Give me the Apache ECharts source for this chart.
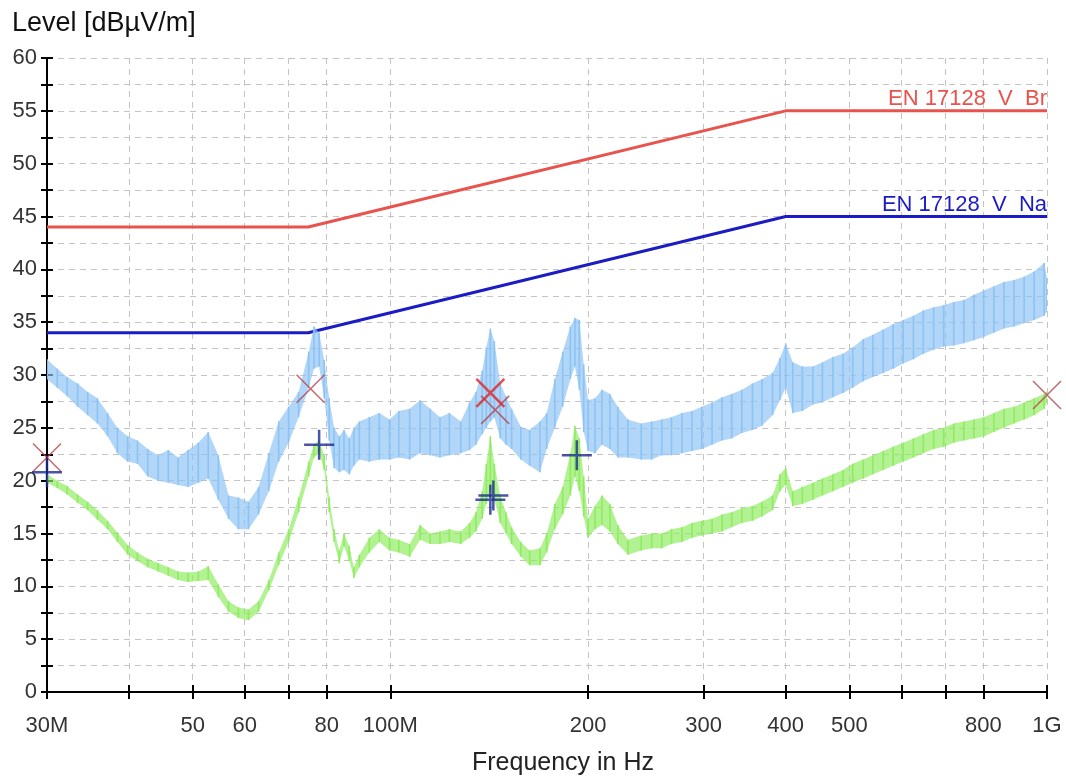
<!DOCTYPE html>
<html>
<head>
<meta charset="utf-8">
<title>EN 17128 scan</title>
<script src="https://cdn.jsdelivr.net/npm/echarts@6/dist/echarts.min.js"></script>
<style>
  html, body { margin: 0; padding: 0; background: #fff; }
  #main { width: 1066px; height: 776px; }
</style>
</head>
<body>
<div id="main"></div>
<script>
// sweep points, MHz
var freqMHz = [
  30, 31.1, 32.2, 33.4, 34.6, 35.8, 37.1, 38.4, 39.8, 41.2,
  42.7, 44.3, 45.9, 47.5, 49.2, 51.0, 52.8, 54.7, 56.7, 58.7,
  60.8, 63.0, 65.3, 67.6, 70.0, 72.5, 75.1, 76.5, 77.9, 79.3,
  80.7, 82.1, 83.6, 85.0, 86.6, 88.0, 89.7, 92.9, 96.2, 99.7,
  103, 107, 111, 115, 119, 123, 128, 132, 135, 138,
  140, 142, 144, 147, 150, 153, 158, 163, 169, 173,
  178, 183, 188, 191, 194, 197, 200, 205, 210, 216,
  222, 230, 241, 250, 259, 268, 278, 288, 298, 309,
  320, 331, 343, 356, 368, 382, 392, 400, 410, 424,
  440, 455, 472, 489, 506, 525, 543, 563, 583, 604,
  626, 648, 672, 696, 721, 747, 774, 801, 830, 860,
  891, 923, 956, 990, 1000
];
// peak detector trace (light blue), top and bottom of the scatter
var peakHi = [
  31.5, 30.6, 29.8, 29.2, 28.4, 27.8, 26.4, 25.0, 24.2, 23.8,
  23.0, 22.4, 22.9, 22.2, 22.9, 23.6, 24.6, 22.4, 18.6, 18.4,
  18.0, 19.4, 22.6, 25.6, 27.0, 28.4, 32.2, 34.6, 34.0, 31.4,
  27.8, 25.0, 24.2, 24.8, 24.0, 25.0, 25.6, 26.0, 26.4, 25.8,
  26.6, 26.8, 27.6, 26.8, 26.0, 26.4, 25.6, 27.4, 28.4, 30.4,
  32.6, 34.4, 33.2, 29.2, 28.0, 26.8, 25.1, 24.8, 25.6, 26.4,
  29.6, 32.2, 34.6, 35.4, 35.2, 31.0, 27.6, 27.8, 28.6, 28.2,
  27.0, 25.8, 25.4, 25.6, 25.8, 26.0, 26.4, 26.6, 27.0, 27.4,
  27.9, 28.2, 28.6, 29.2, 29.6, 30.2, 31.6, 33.0, 31.2, 30.8,
  30.8, 31.2, 31.7, 32.0, 32.6, 33.4, 33.8, 34.3, 34.8, 35.2,
  35.6, 36.1, 36.4, 36.6, 36.9, 37.1, 37.6, 38.0, 38.4, 38.8,
  39.0, 39.3, 39.8, 40.6, 39.2
];
var peakLo = [
  29.6, 28.8, 28.0, 27.0, 26.2, 25.4, 24.2, 22.6, 21.8, 21.6,
  20.4, 20.0, 19.8, 19.6, 19.4, 19.8, 20.2, 18.2, 16.4, 15.4,
  15.4, 16.8, 19.0, 21.8, 23.6, 26.0, 28.8, 30.6, 30.8, 27.8,
  23.8, 21.2, 20.8, 21.0, 20.6, 21.4, 22.0, 21.8, 22.0, 22.0,
  22.2, 22.0, 22.6, 22.4, 22.2, 22.4, 22.6, 22.9, 23.4, 24.4,
  25.0, 25.6, 26.0, 24.0, 23.4, 23.0, 22.0, 21.4, 20.8, 23.0,
  25.0, 27.0, 29.6, 30.8, 28.6, 24.6, 22.8, 22.6, 23.4, 23.0,
  22.2, 22.2, 22.0, 22.0, 22.4, 22.4, 22.6, 22.8, 23.0, 23.4,
  23.8, 24.0, 24.5, 24.8, 25.2, 26.2, 27.6, 28.8, 26.4, 26.6,
  27.2, 27.4, 27.9, 28.3, 28.8, 29.4, 29.8, 30.2, 30.6, 31.1,
  31.5, 32.0, 32.4, 32.7, 32.8, 33.0, 33.3, 33.6, 34.0, 34.4,
  34.6, 34.9, 35.2, 35.6, 36.0
];
// average detector trace (green)
var avgHi = [
  20.6, 20.0, 19.5, 18.7, 18.0, 17.2, 16.2, 15.1, 13.9, 13.2,
  12.6, 12.2, 11.8, 11.4, 11.3, 11.4, 11.9, 10.2, 8.6, 8.0,
  7.8, 8.6, 10.6, 13.2, 15.4, 18.4, 21.8, 23.4, 23.8, 22.4,
  18.4, 15.4, 13.4, 15.0, 13.8, 11.8, 13.0, 14.6, 15.4, 14.6,
  14.4, 14.0, 15.8, 15.0, 15.2, 15.4, 15.2, 16.0, 17.0, 19.0,
  21.6, 24.2, 21.6, 18.6, 17.0, 15.6, 14.2, 13.4, 13.6, 15.0,
  17.8, 19.4, 22.6, 25.2, 24.0, 20.4, 16.4, 17.6, 18.6, 17.8,
  15.8, 14.4, 14.8, 15.0, 15.0, 15.4, 15.6, 16.0, 16.2, 16.4,
  16.8, 17.0, 17.4, 17.6, 18.0, 18.6, 20.6, 21.2, 19.0, 19.4,
  19.8, 20.2, 20.6, 21.0, 21.6, 22.0, 22.4, 22.8, 23.2, 23.6,
  24.0, 24.4, 24.8, 25.0, 25.4, 25.6, 25.8, 26.0, 26.4, 26.8,
  27.0, 27.4, 27.8, 28.2, 28.4
];
var avgLo = [
  19.8, 19.3, 18.7, 17.9, 17.2, 16.3, 15.4, 14.2, 13.0, 12.4,
  11.8, 11.4, 11.0, 10.6, 10.4, 10.5, 10.6, 9.0, 7.6, 7.0,
  6.8, 7.6, 9.6, 12.0, 14.2, 17.0, 20.4, 22.2, 22.6, 21.0,
  17.0, 14.2, 12.2, 13.8, 12.4, 10.8, 11.8, 13.2, 14.2, 13.4,
  13.2, 12.8, 14.4, 14.0, 14.0, 14.2, 14.0, 14.6, 15.2, 16.4,
  17.8, 19.0, 18.2, 16.0, 15.0, 14.0, 12.8, 12.0, 12.0, 13.2,
  15.4, 16.8, 18.6, 20.4, 19.0, 16.6, 14.6, 15.4, 15.8, 15.2,
  14.0, 13.0, 13.4, 13.6, 13.6, 14.0, 14.2, 14.6, 14.8, 15.0,
  15.2, 15.6, 16.0, 16.2, 16.6, 17.2, 19.0, 19.6, 17.6, 17.8,
  18.2, 18.6, 19.0, 19.4, 19.8, 20.2, 20.6, 21.0, 21.4, 21.8,
  22.2, 22.6, 23.0, 23.2, 23.6, 23.8, 24.0, 24.2, 24.6, 25.0,
  25.4, 25.8, 26.2, 26.8, 27.4
];

// limit lines
var limitFreq = [30, 75, 400, 1000];
var limitBr = [44, 44, 55, 55];
var limitNa = [34, 34, 45, 45];

// final measurement markers
var peakMarkF = [30, 75.6, 144.4, 1000];
var peakMarkV = [22.2, 28.7, 26.7, 28.1];
var peakHitF = [142];
var peakHitV = [28.3];
var avgMarkF = [30, 77.9, 142, 143.5, 192.3];
var avgMarkV = [20.8, 23.4, 18.2, 18.6, 22.4];

// axis
var tickFreqs = [30, 40, 50, 60, 70, 80, 100, 200, 300, 400, 500, 600, 700, 800, 1000];
var labelFreqs = [30, 50, 60, 80, 100, 200, 300, 400, 500, 800, 1000];
var labelTexts = ['30M', '50', '60', '80', '100M', '200', '300', '400', '500', '800', '1G'];

var FONT = '"Liberation Sans", Arial, sans-serif';
var lg = function (f) { return Math.log10(f); };

function pairs(fs, vs) {
  return fs.map(function (f, i) { return [lg(f), vs[i]]; });
}
// filled envelope between the two edges of a trace
function band(hi, lo, color, z) {
  return {
    type: 'custom', z: z, silent: true, clip: true,
    data: pairs(freqMHz, hi),
    renderItem: function (params, api) {
      if (params.dataIndex !== 0) return null;
      var pts = [], i;
      for (i = 0; i < freqMHz.length; i++) pts.push(api.coord([lg(freqMHz[i]), hi[i]]));
      for (i = freqMHz.length - 1; i >= 0; i--) pts.push(api.coord([lg(freqMHz[i]), lo[i]]));
      return { type: 'polygon', shape: { points: pts }, style: { fill: color, opacity: 0.68 } };
    }
  };
}
// vertical sweep strokes, one per point
function strokes(hi, lo, color, z) {
  return {
    type: 'custom', z: z, silent: true, clip: true,
    data: freqMHz.map(function (f, i) { return [lg(f), hi[i], lo[i]]; }),
    encode: { x: 0, y: [1, 2] },
    renderItem: function (params, api) {
      var a = api.coord([api.value(0), api.value(1)]);
      var b = api.coord([api.value(0), api.value(2)]);
      return {
        type: 'line',
        shape: { x1: a[0], y1: a[1], x2: b[0], y2: b[1] },
        style: { stroke: color, lineWidth: 1.6 }
      };
    }
  };
}
function limit(vals, color, text) {
  return {
    type: 'line', z: 2, silent: true, symbol: 'none',
    data: pairs(limitFreq, vals),
    lineStyle: { color: color, width: 3 },
    endLabel: {
      show: true, formatter: text, align: 'right', verticalAlign: 'bottom',
      distance: 0, offset: [0, -1], color: color, fontSize: 22, fontFamily: FONT
    }
  };
}
var X_PATH = 'path://M0,0L10,10M10,0L0,10';
var PLUS_PATH = 'path://M5,0L5,10M0,5L10,5';
function marks(fs, vs, path, size, color, width) {
  return {
    type: 'scatter', z: 8, silent: true, clip: false,
    data: pairs(fs, vs), symbol: path, symbolSize: size,
    itemStyle: { color: 'transparent', borderColor: color, borderWidth: width }
  };
}

var chart = echarts.init(document.getElementById('main'));
var axisText = { fontSize: 22, color: '#333', fontFamily: FONT };
var option = {
  animation: false,
  backgroundColor: '#fff',
  grid: { left: 47, right: 19, top: 58, bottom: 84, containLabel: false, outerBoundsMode: 'none' },
  graphic: [{
    type: 'text', left: 12, top: 10,
    style: { text: 'Level [dBµV/m]', font: '27px ' + FONT, fill: '#111' }
  }],
  xAxis: [{
    type: 'value', min: lg(30), max: lg(1000),
    axisLine: { lineStyle: { color: '#000', width: 2 } },
    axisTick: { customValues: tickFreqs.map(lg), length: 7, lineStyle: { color: '#000', width: 2 } },
    axisLabel: Object.assign({
      customValues: labelFreqs.map(lg), margin: 23,
      formatter: function (v) {
        var i = labelFreqs.indexOf(Math.round(Math.pow(10, v)));
        return i >= 0 ? labelTexts[i] : '';
      }
    }, axisText),
    splitLine: { show: true, lineStyle: { type: [6, 5], color: '#c4c4c4', width: 1 } },
    name: 'Frequency in Hz', nameLocation: 'middle', nameGap: 59,
    nameTextStyle: { fontSize: 25, color: '#222', fontFamily: FONT, padding: [0, 0, 0, 32] }
  }, {
    type: 'value', min: lg(30), max: lg(1000), position: 'bottom',
    axisLine: { show: false },
    axisTick: { customValues: tickFreqs.map(lg), inside: true, length: 7, lineStyle: { color: '#000', width: 2 } },
    axisLabel: { show: false }, splitLine: { show: false }
  }],
  yAxis: [{
    type: 'value', min: 0, max: 60, interval: 2.5,
    axisLine: { show: true, lineStyle: { color: '#000', width: 2 } },
    axisTick: { show: true, length: 6, lineStyle: { color: '#000', width: 2 } },
    axisLabel: Object.assign({
      margin: 10,
      formatter: function (v) { return v % 5 === 0 ? String(v) : ''; }
    }, axisText),
    splitLine: { show: true, lineStyle: { type: [6, 5], color: '#c4c4c4', width: 1 } }
  }, {
    type: 'value', min: 0, max: 60, interval: 2.5, position: 'left',
    axisLine: { show: false },
    axisTick: { show: true, inside: true, length: 6, lineStyle: { color: '#000', width: 2 } },
    axisLabel: { show: false }, splitLine: { show: false }
  }],
  series: [
    limit(limitBr, '#e8534e', 'EN 17128  V  Br'),
    limit(limitNa, '#1c1cc4', 'EN 17128  V  Na'),
    band(peakHi, peakLo, '#8cc3f5', 3),
    strokes(peakHi, peakLo, '#8cc3f5', 3),
    band(avgHi, avgLo, '#8eec5e', 4),
    strokes(avgHi, avgLo, '#8eec5e', 4),
    marks(peakMarkF, peakMarkV, X_PATH, 28, '#b5424a', 1.5),
    marks(peakHitF, peakHitV, X_PATH, 28, '#e02424', 2.5),
    marks(avgMarkF, avgMarkV, PLUS_PATH, 30, '#1c2a90', 2.5)
  ]
};
chart.setOption(option);
</script>
</body>
</html>
